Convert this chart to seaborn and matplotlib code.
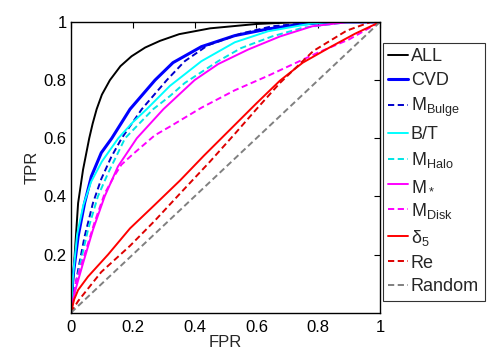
import numpy as np
import pandas as pd
import seaborn as sns
import matplotlib
matplotlib.use("Agg")
import matplotlib.pyplot as plt

# ROC curves (FPR, TPR)
fpr_all = [0, 0.006, 0.012, 0.023, 0.039, 0.059, 0.07, 0.083, 0.1, 0.126, 0.16, 0.196, 0.24, 0.288, 0.35, 0.45, 0.6, 0.75, 1]
tpr_all = [0, 0.09, 0.2, 0.377, 0.492, 0.6, 0.65, 0.7, 0.75, 0.8, 0.848, 0.882, 0.912, 0.935, 0.958, 0.978, 0.993, 1, 1]

fpr_cvd = [0, 0.006, 0.023, 0.044, 0.066, 0.098, 0.132, 0.191, 0.272, 0.33, 0.422, 0.53, 0.638, 0.75, 0.85, 1]
tpr_cvd = [0, 0.12, 0.262, 0.377, 0.469, 0.55, 0.6, 0.7, 0.8, 0.86, 0.915, 0.953, 0.976, 0.993, 1, 1]

fpr_bulge = [0, 0.023, 0.044, 0.071, 0.098, 0.13, 0.164, 0.229, 0.31, 0.368, 0.443, 0.55, 0.65, 0.8, 1]
tpr_bulge = [0, 0.147, 0.262, 0.377, 0.46, 0.535, 0.6, 0.7, 0.8, 0.865, 0.92, 0.96, 0.985, 1, 1]

fpr_bt = [0, 0.006, 0.02, 0.04, 0.065, 0.1, 0.153, 0.2, 0.245, 0.32, 0.422, 0.53, 0.638, 0.78, 0.85, 1]
tpr_bt = [0, 0.12, 0.27, 0.37, 0.45, 0.52, 0.6, 0.655, 0.7, 0.78, 0.865, 0.93, 0.968, 0.995, 1, 1]

fpr_halo = [0, 0.03, 0.055, 0.087, 0.12, 0.175, 0.266, 0.32, 0.368, 0.476, 0.55, 0.65, 0.75, 0.9, 1]
tpr_halo = [0, 0.17, 0.285, 0.4, 0.48, 0.6, 0.7, 0.745, 0.79, 0.865, 0.91, 0.95, 0.98, 1, 1]

fpr_mstar = [0, 0.012, 0.039, 0.071, 0.109, 0.152, 0.213, 0.299, 0.4, 0.476, 0.573, 0.676, 0.78, 0.9, 1]
tpr_mstar = [0, 0.07, 0.17, 0.285, 0.4, 0.503, 0.6, 0.7, 0.8, 0.855, 0.905, 0.95, 0.985, 1, 1]

fpr_disk = [0, 0.017, 0.044, 0.076, 0.109, 0.14, 0.163, 0.2, 0.271, 0.32, 0.422, 0.53, 0.638, 0.8, 0.9, 1]
tpr_disk = [0, 0.11, 0.2, 0.31, 0.41, 0.47, 0.509, 0.545, 0.61, 0.64, 0.705, 0.765, 0.815, 0.895, 0.94, 1]

fpr_d5 = [0, 0.01, 0.023, 0.055, 0.12, 0.191, 0.27, 0.353, 0.43, 0.515, 0.6, 0.676, 0.75, 0.838, 0.92, 1]
tpr_d5 = [0, 0.045, 0.078, 0.124, 0.2, 0.29, 0.37, 0.455, 0.54, 0.63, 0.72, 0.798, 0.86, 0.913, 0.96, 1]

fpr_re = [0, 0.023, 0.098, 0.191, 0.27, 0.353, 0.45, 0.53, 0.6, 0.676, 0.784, 0.892, 0.97, 1]
tpr_re = [0, 0.04, 0.14, 0.23, 0.315, 0.41, 0.52, 0.615, 0.7, 0.79, 0.9, 0.97, 1, 1]

fpr_rand = [0, 1]
tpr_rand = [0, 1]

labels = ["ALL", "CVD", r"M$_{\rm Bulge}$", "B/T", r"M$_{\rm Halo}$",
          r"M$_*$", r"M$_{\rm Disk}$", r"$\delta_5$", "Re", "Random"]

curvas = [(fpr_all, tpr_all, "black", "-", 1.4),
          (fpr_cvd, tpr_cvd, "#0000ff", "-", 2.2),
          (fpr_bulge, tpr_bulge, "#0000cc", "--", 1.4),
          (fpr_bt, tpr_bt, "#00ffff", "-", 1.4),
          (fpr_halo, tpr_halo, "#00e5e5", "--", 1.4),
          (fpr_mstar, tpr_mstar, "#ff00ff", "-", 1.4),
          (fpr_disk, tpr_disk, "#ff00ff", "--", 1.4),
          (fpr_d5, tpr_d5, "#ff0000", "-", 1.4),
          (fpr_re, tpr_re, "#dd0000", "--", 1.4),
          (fpr_rand, tpr_rand, "#808080", "--", 1.4)]

sns.set_style("white")
plt.rcParams['font.family'] = ['Liberation Sans', 'DejaVu Sans']
plt.rcParams['mathtext.fontset'] = 'custom'
plt.rcParams['mathtext.rm'] = 'Liberation Sans'
plt.rcParams['mathtext.it'] = 'Liberation Sans'

fig = plt.figure(figsize=(4.91, 3.54), dpi=100)
ax = fig.add_axes([0.1446, 0.1167, 0.6294, 0.8213])

for (x, y, c, ls, lw), lab in zip(curvas, labels):
    df = pd.DataFrame({'FPR': x, 'TPR': y})
    sns.lineplot(data=df, x='FPR', y='TPR', color=c, linewidth=lw, label=lab,
                 ax=ax, sort=False, estimator=None)
    ax.lines[-1].set_linestyle(ls)
    if ls == "--":
        ax.lines[-1].set_dashes((3.2, 1.8))

ax.set_xlim(0, 1)
ax.set_ylim(0, 1)
ax.set_xticks([0, 0.2, 0.4, 0.6, 0.8, 1])
ax.set_xticklabels(["0", "0.2", "0.4", "0.6", "0.8", "1"])
ax.set_yticks([0.2, 0.4, 0.6, 0.8, 1])
ax.set_yticklabels(["0.2", "0.4", "0.6", "0.8", "1"])
ax.tick_params(direction='in', length=4, width=0.8, top=True, right=True,
               labelsize=12, colors='black', pad=3)
ax.tick_params(axis='x', pad=5)
for s in ax.spines.values():
    s.set_color('black')
    s.set_linewidth(1.0)
ax.set_xlabel("FPR", fontsize=12, labelpad=0)
ax.set_ylabel("TPR", fontsize=12, labelpad=3)

handles, labs = ax.get_legend_handles_labels()
ax.get_legend().remove()
leg = fig.legend(handles, labs, loc='upper left', bbox_to_anchor=(0.78, 0.8785),
                 fontsize=13, frameon=True, fancybox=False, handlelength=1.1,
                 handletextpad=0.15, labelspacing=0.38, borderpad=0.3,
                 borderaxespad=0)
leg.get_frame().set_edgecolor('black')
leg.get_frame().set_linewidth(0.8)

fig.savefig("out.png", dpi=100)
